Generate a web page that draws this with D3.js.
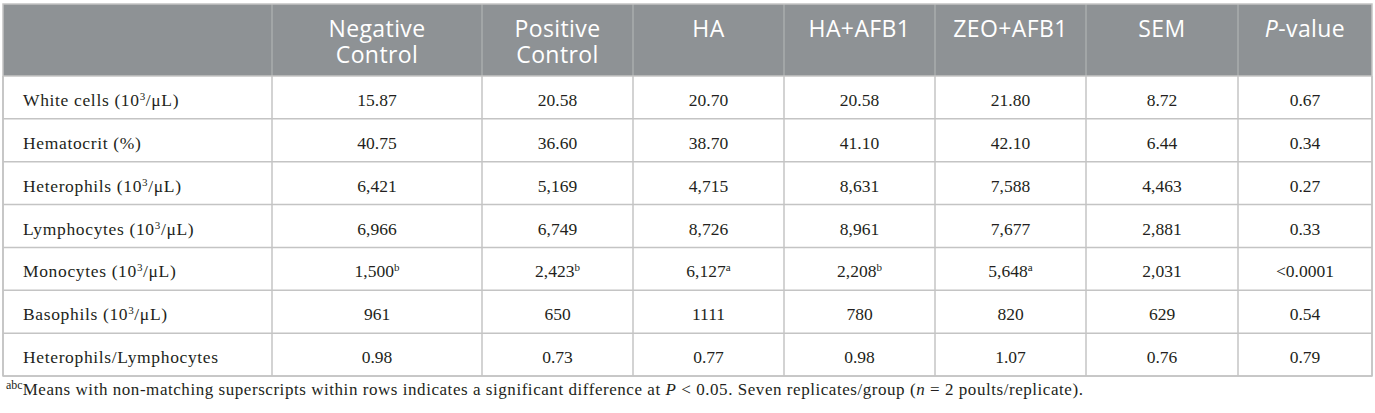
<!DOCTYPE html>
<html>
<head>
<meta charset="utf-8">
<script src="https://cdn.jsdelivr.net/npm/d3@7"></script>
<style>
  body { margin: 0; background: #fff; }
  svg { display: block; }
</style>
</head>
<body>
<svg id="chart" width="1375" height="413"></svg>
<script>
// table content
var columns = ["label", "neg", "pos", "ha", "haafb", "zeoafb", "sem", "p"];
var headerLines = [[], ["Negative", "Control"], ["Positive", "Control"], ["HA"], ["HA+AFB1"], ["ZEO+AFB1"], ["SEM"], ["P-value"]];
var rowLabels = [
  ["White cells (10", "3", "/\u03bcL)"],
  ["Hematocrit (%)"],
  ["Heterophils (10", "3", "/\u03bcL)"],
  ["Lymphocytes (10", "3", "/\u03bcL)"],
  ["Monocytes (10", "3", "/\u03bcL)"],
  ["Basophils (10", "3", "/\u03bcL)"],
  ["Heterophils/Lymphocytes"]
];
var whiteCells = ["15.87", "20.58", "20.70", "20.58", "21.80", "8.72", "0.67"];
var hematocrit = ["40.75", "36.60", "38.70", "41.10", "42.10", "6.44", "0.34"];
var heterophils = ["6,421", "5,169", "4,715", "8,631", "7,588", "4,463", "0.27"];
var lymphocytes = ["6,966", "6,749", "8,726", "8,961", "7,677", "2,881", "0.33"];
var monocytes = ["1,500", "2,423", "6,127", "2,208", "5,648", "2,031", "<0.0001"];
var monocyteLetters = ["b", "b", "a", "b", "a", "", ""];
var basophils = ["961", "650", "1111", "780", "820", "629", "0.54"];
var hetLym = ["0.98", "0.73", "0.77", "0.98", "1.07", "0.76", "0.79"];
var noLetters = ["", "", "", "", "", "", ""];
var rowValues = [whiteCells, hematocrit, heterophils, lymphocytes, monocytes, basophils, hetLym];
var rowLetters = [noLetters, noLetters, noLetters, noLetters, monocyteLetters, noLetters, noLetters];

// layout
var colWidths = [269, 210, 151, 151, 151, 151, 152, 134];
var tLeft = 3, tTop = 4, headH = 72;
var tBottom = 376;
var headBg = "#8e9295", lineCol = "#c4c4c4", ink = "#231f20";
var serif = "'Liberation Serif', 'Times New Roman', serif";
var sans = "'Open Sans', 'Noto Sans', sans-serif";

var edges = [tLeft];
colWidths.forEach(function (w) { edges.push(edges[edges.length - 1] + w); });
var tRight = edges[edges.length - 1];

var colX = d3.scaleOrdinal().domain(columns).range(edges.slice(0, -1));
var colW = d3.scaleOrdinal().domain(columns).range(colWidths);
var rowY = d3.scaleBand().domain(d3.range(rowLabels.length)).range([tTop + headH, tBottom]);

var svg = d3.select("#chart");

// header block
svg.append("rect")
  .attr("x", tLeft).attr("y", tTop)
  .attr("width", tRight - tLeft).attr("height", headH)
  .attr("fill", headBg);

svg.selectAll(".hsep").data(columns.slice(1))
  .enter().append("line")
  .attr("class", "hsep")
  .attr("x1", function (c) { return colX(c); })
  .attr("x2", function (c) { return colX(c); })
  .attr("y1", tTop).attr("y2", tTop + headH)
  .attr("stroke", "#a9acae").attr("stroke-width", 1.5);

columns.forEach(function (c, i) {
  if (!headerLines[i].length) return;
  var cx = colX(c) + colW(c) / 2;
  var t = svg.append("text")
    .attr("x", cx)
    .attr("y", tTop + 33)
    .attr("text-anchor", "middle")
    .attr("fill", "#ffffff")
    .attr("font-family", sans)
    .attr("font-size", "23px")
    .attr("letter-spacing", "0.4px");
  headerLines[i].forEach(function (line, j) {
    if (line === "P-value") {
      t.append("tspan").attr("font-style", "italic").text("P");
      t.append("tspan").text("-value");
    } else {
      t.append("tspan").attr("x", cx).attr("dy", j ? 26 : 0).text(line);
    }
  });
});

// body rows
var rows = svg.selectAll(".row").data(rowLabels)
  .enter().append("g")
  .attr("class", "row")
  .attr("transform", function (d, i) { return "translate(0," + rowY(i) + ")"; });

rows.append("text")
  .attr("x", tLeft + 20)
  .attr("y", 30)
  .attr("fill", ink)
  .attr("font-family", serif)
  .attr("font-size", "17.5px")
  .attr("letter-spacing", "0.65px")
  .each(function (parts) {
    var t = d3.select(this);
    t.append("tspan").text(parts[0]);
    if (parts.length > 1) {
      t.append("tspan").attr("dy", -6).attr("font-size", "11px").text(parts[1]);
      t.append("tspan").attr("dy", 6).text(parts[2]);
    }
  });

rows.each(function (d, i) {
  var g = d3.select(this);
  var vals = rowValues[i];
  var sups = rowLetters[i];
  vals.forEach(function (v, k) {
    var c = columns[k + 1];
    var t = g.append("text")
      .attr("x", colX(c) + colW(c) / 2)
      .attr("y", 30)
      .attr("text-anchor", "middle")
      .attr("fill", ink)
      .attr("font-family", serif)
      .attr("font-size", "17.5px");
    t.append("tspan").text(v);
    if (sups[k]) {
      t.append("tspan").attr("dy", -6).attr("font-size", "11px").text(sups[k]);
    }
  });
});

// grid lines
svg.selectAll(".hline").data(d3.range(rowLabels.length + 1))
  .enter().append("line")
  .attr("class", "hline")
  .attr("x1", tLeft).attr("x2", tRight)
  .attr("y1", function (i) { return i < rowLabels.length ? rowY(i) : tBottom; })
  .attr("y2", function (i) { return i < rowLabels.length ? rowY(i) : tBottom; })
  .attr("stroke", lineCol).attr("stroke-width", 1.5);

svg.selectAll(".vline").data(edges)
  .enter().append("line")
  .attr("class", "vline")
  .attr("x1", function (x) { return x; })
  .attr("x2", function (x) { return x; })
  .attr("y1", tTop + headH).attr("y2", tBottom)
  .attr("stroke", lineCol).attr("stroke-width", 1.5);

svg.append("rect")
  .attr("x", tLeft).attr("y", tTop)
  .attr("width", tRight - tLeft).attr("height", tBottom - tTop)
  .attr("fill", "none")
  .attr("stroke", lineCol).attr("stroke-width", 1.5);

// footnote
var note = svg.append("text")
  .attr("x", tLeft + 3)
  .attr("y", 395)
  .attr("fill", ink)
  .attr("font-family", serif)
  .attr("font-size", "17px")
  .attr("letter-spacing", "0.55px");
note.append("tspan").attr("dy", -6).attr("font-size", "12px").attr("letter-spacing", "0px").text("abc");
note.append("tspan").attr("dy", 6).text("Means with non-matching superscripts within rows indicates a significant difference at ");
note.append("tspan").attr("font-style", "italic").text("P");
note.append("tspan").text(" < 0.05. Seven replicates/group (");
note.append("tspan").attr("font-style", "italic").text("n");
note.append("tspan").text(" = 2 poults/replicate).");
</script>
</body>
</html>
